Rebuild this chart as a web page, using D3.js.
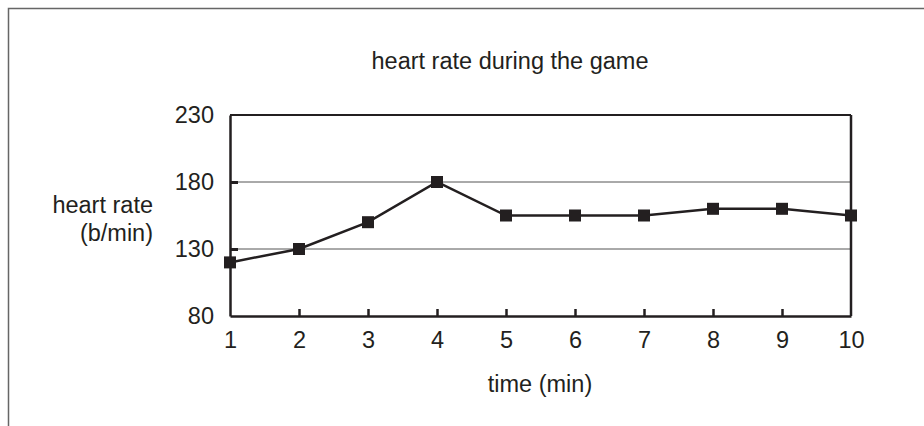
<!DOCTYPE html>
<html>
<head>
<meta charset="utf-8">
<script src="https://cdn.jsdelivr.net/npm/d3@7"></script>
<style>
  body { margin: 0; background: #fff; }
  text { font-family: "Liberation Sans", Arial, sans-serif; fill: #231f20; }
</style>
</head>
<body>
<div class="svg-target"></div>
<script>
const times = [1, 2, 3, 4, 5, 6, 7, 8, 9, 10];
const heartRate = [120, 130, 150, 180, 155, 155, 155, 160, 160, 155];
const yTicks = [80, 130, 180, 230];

const w = 924;
const h = 426;
const ink = '#231f20';
const fs = 23.5;

const svg = d3.select('.svg-target')
    .append('svg')
    .attr('width', w)
    .attr('height', h);

// outer frame (top and left only)
svg.append('path')
    .attr('d', `M8.5,${h} V8.5 H${w}`)
    .attr('fill', 'none')
    .attr('stroke', '#666')
    .attr('stroke-width', 1.5);

const xScale = d3.scaleLinear()
    .domain([1, 10])
    .range([230, 851]);

const yScale = d3.scaleLinear()
    .domain([80, 230])
    .range([316, 115]);

// grid lines
svg.append('g')
    .selectAll('line')
    .data([130, 180])
    .enter()
    .append('line')
        .attr('x1', xScale(1))
        .attr('x2', xScale(10))
        .attr('y1', d => yScale(d))
        .attr('y2', d => yScale(d))
        .attr('stroke', '#555')
        .attr('stroke-width', 1);

// top edge
svg.append('line')
    .attr('x1', xScale(1))
    .attr('x2', xScale(10))
    .attr('y1', yScale(230))
    .attr('y2', yScale(230))
    .attr('stroke', ink)
    .attr('stroke-width', 2);

// right edge
svg.append('line')
    .attr('x1', xScale(10))
    .attr('x2', xScale(10))
    .attr('y1', yScale(230))
    .attr('y2', yScale(80))
    .attr('stroke', ink)
    .attr('stroke-width', 2.5);

// x axis
const xAxis = d3.axisBottom(xScale)
    .tickValues(times)
    .tickSizeInner(-7)
    .tickSizeOuter(0)
    .tickPadding(15)
    .tickFormat(d3.format('d'));

const gx = svg.append('g')
    .attr('transform', `translate(0, ${yScale(80)})`)
    .call(xAxis);
gx.select('.domain').attr('stroke', ink).attr('stroke-width', 2.5);
gx.selectAll('.tick line').attr('stroke', ink).attr('stroke-width', 2.5)
    .filter(d => d === 1 || d === 10).remove();
gx.selectAll('.tick text').attr('font-size', fs).style('fill', ink);

// y axis
const yAxis = d3.axisLeft(yScale)
    .tickValues(yTicks)
    .tickSizeInner(-8)
    .tickSizeOuter(0)
    .tickPadding(16);

const gy = svg.append('g')
    .attr('transform', `translate(${xScale(1)}, 0)`)
    .call(yAxis);
gy.select('.domain').attr('stroke', ink).attr('stroke-width', 2.5);
gy.selectAll('.tick line').attr('stroke', ink).attr('stroke-width', 3)
    .filter(d => d === 80 || d === 230).remove();
gy.selectAll('.tick text').attr('font-size', fs).style('fill', ink);

// line
svg.append('path')
    .datum(times.map((t, i) => [t, heartRate[i]]))
    .attr('fill', 'none')
    .attr('stroke', ink)
    .attr('stroke-width', 2.5)
    .attr('d', d3.line().x(d => xScale(d[0])).y(d => yScale(d[1])));

// markers
svg.selectAll('rect.mark')
    .data(times)
    .enter()
    .append('rect')
        .attr('class', 'mark')
        .attr('x', (d, i) => xScale(d) - 6)
        .attr('y', (d, i) => yScale(heartRate[i]) - 6)
        .attr('width', 12)
        .attr('height', 12)
        .attr('fill', ink);

// titles
svg.append('text')
    .attr('x', 510)
    .attr('y', 69)
    .attr('text-anchor', 'middle')
    .attr('font-size', fs)
    .text('heart rate during the game');

svg.append('text')
    .attr('x', 153)
    .attr('y', 213)
    .attr('text-anchor', 'end')
    .attr('font-size', fs)
    .text('heart rate');

svg.append('text')
    .attr('x', 153)
    .attr('y', 241)
    .attr('text-anchor', 'end')
    .attr('font-size', fs)
    .text('(b/min)');

svg.append('text')
    .attr('x', 540)
    .attr('y', 392)
    .attr('text-anchor', 'middle')
    .attr('font-size', fs)
    .text('time (min)');
</script>
</body>
</html>
